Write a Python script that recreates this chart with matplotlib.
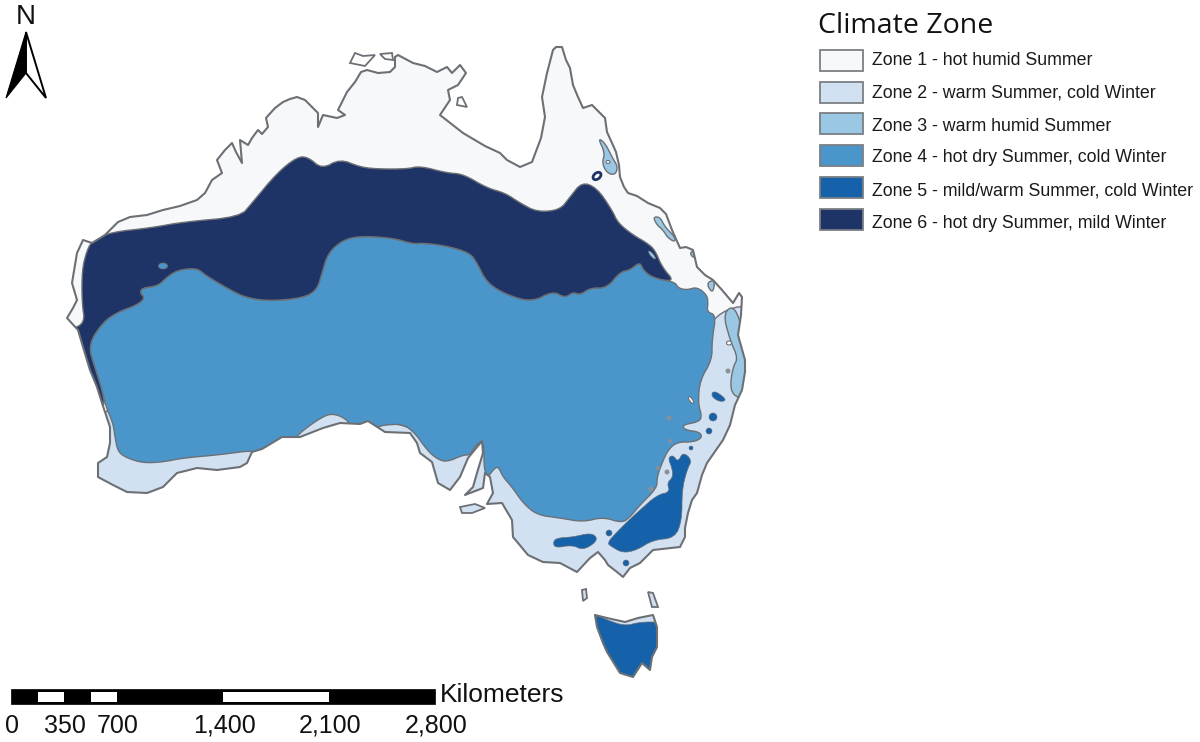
import matplotlib
matplotlib.use("Agg")
import matplotlib.pyplot as plt
from matplotlib.patches import Polygon, Circle, Ellipse, Rectangle

coast = [
    (83, 240), (92, 243), (105, 235), (118, 222), (130, 217), (147, 215), (163, 210), (180, 206),
    (197, 200), (205, 193), (212, 180), (222, 173), (217, 160), (225, 150), (232, 143), (236, 152),
    (242, 163), (240, 140), (248, 145), (252, 138), (258, 130), (262, 134), (268, 127), (266, 118),
    (275, 108), (283, 102), (290, 99), (297, 97), (305, 100), (312, 107), (318, 113), (318, 127),
    (323, 115), (337, 118), (345, 115), (338, 110), (347, 92), (355, 82), (361, 72), (367, 70),
    (378, 73), (390, 72), (395, 67), (395, 57), (398, 55), (413, 63), (425, 66), (437, 72),
    (447, 67), (452, 73), (460, 65), (466, 73), (458, 85), (448, 90), (450, 100), (440, 115),
    (463, 133), (485, 146), (500, 153), (507, 160), (520, 167), (532, 162), (541, 138), (545, 117),
    (542, 97), (547, 73), (553, 50), (556, 47), (562, 47), (566, 60), (570, 68), (573, 85),
    (578, 97), (583, 108), (592, 105), (600, 113), (605, 118), (607, 132), (612, 143), (616, 152),
    (619, 165), (620, 177), (624, 187), (628, 193), (637, 196), (648, 203), (660, 208), (666, 214),
    (672, 230), (680, 248), (686, 247), (693, 250), (697, 267), (705, 275), (713, 280), (722, 290),
    (733, 303), (739, 293), (742, 297), (741, 315), (738, 335), (745, 360), (745, 372), (742, 390),
    (735, 405), (730, 425), (723, 440), (707, 463), (702, 475), (697, 493), (692, 500), (688, 513),
    (685, 528), (685, 537), (680, 547), (653, 550), (640, 563), (630, 568), (623, 577), (617, 572),
    (608, 565), (605, 560), (598, 552), (590, 558), (577, 572), (560, 563), (543, 562), (528, 555),
    (513, 537), (512, 520), (502, 503), (487, 504), (493, 493), (490, 477), (485, 473), (483, 488),
    (465, 495), (473, 487), (477, 473), (483, 453), (482, 441), (468, 458), (460, 477), (450, 490),
    (438, 483), (432, 462), (420, 453), (417, 443), (410, 433), (385, 432), (368, 421), (360, 424),
    (340, 423), (323, 428), (300, 437), (282, 437), (262, 449), (252, 452), (247, 463), (240, 467),
    (217, 470), (197, 468), (177, 473), (163, 487), (147, 493), (127, 492), (113, 485), (98, 477),
    (98, 463), (107, 457), (110, 443), (110, 427), (102, 403), (97, 387), (90, 370), (83, 347),
    (78, 330), (67, 318), (73, 308), (77, 300), (72, 283), (77, 253),
]
tasmania = [
    (595, 615), (607, 618), (625, 622), (638, 618), (653, 615), (657, 627), (657, 647), (652, 657),
    (650, 670), (642, 663), (633, 677), (620, 673), (607, 652), (603, 643), (597, 627),
]
islands = [
    [(355, 53), (350, 63), (365, 66), (375, 55), (363, 56)],
    [(380, 54), (385, 59), (393, 60), (392, 53)],
    [(457, 105), (458, 98), (462, 97), (467, 107)],
    [(582, 590), (586, 589), (587, 598), (583, 601)],
    [(648, 592), (653, 593), (658, 607), (652, 607)],
    [(460, 507), (475, 504), (485, 508), (472, 513), (462, 513)],
]
zone2_islands = [3, 4, 5]

zone6_north = [
    (93, 240), (112, 232), (150, 228), (183, 222), (240, 217), (252, 203), (277, 173), (297, 157),
    (308, 157), (322, 169), (340, 159), (360, 167), (377, 169), (407, 169), (420, 166), (447, 173),
    (463, 174), (487, 188), (505, 193), (520, 203), (537, 212), (560, 210), (570, 197), (582, 182),
    (597, 188), (612, 210), (618, 223), (633, 235), (647, 243), (655, 250), (662, 267), (675, 282),
]
zone6_south = [
    (675, 282), (653, 278), (643, 270), (640, 262), (630, 270), (620, 272), (607, 288), (590, 288),
    (580, 295), (573, 292), (565, 298), (553, 291), (532, 302), (507, 295), (487, 283), (477, 263),
    (470, 253), (447, 246), (423, 243), (413, 244), (393, 238), (360, 236), (343, 240), (328, 253),
    (322, 273), (317, 290), (303, 298), (270, 301), (247, 298), (230, 290), (205, 275), (197, 268),
    (178, 270), (167, 277), (158, 286), (142, 288), (140, 293), (145, 298), (137, 305), (118, 312),
    (103, 322), (88, 345),
]
zone6_west = [
    (95, 368), (102, 390), (105, 407), (96, 407), (84, 375), (70, 330), (85, 323), (82, 303),
    (82, 270), (87, 250),
]
zone4_east = [
    (678, 288), (687, 290), (697, 287), (707, 295), (708, 303), (707, 312), (716, 315), (712, 340),
    (712, 360), (700, 380), (698, 403), (702, 417), (698, 422), (682, 425), (685, 430), (700, 432),
    (702, 438), (693, 442), (677, 442), (668, 450), (662, 463), (657, 477), (657, 488), (640, 505),
    (630, 517), (622, 523), (603, 517), (583, 522), (560, 518), (537, 515), (523, 503), (512, 487),
    (503, 477), (498, 466), (493, 470), (488, 477), (484, 470), (484, 440), (476, 445), (470, 455),
    (463, 455), (447, 462), (437, 459), (427, 450), (415, 433), (403, 424), (383, 425), (376, 428),
    (350, 428), (348, 420), (333, 413), (320, 418), (297, 435), (297, 440), (282, 441), (262, 453),
    (250, 451), (240, 452), (217, 455), (183, 458), (163, 462), (143, 463), (127, 458), (118, 452),
    (115, 437), (113, 423), (106, 407), (102, 390), (95, 368),
]
zone2_area = [
    (100, 405), (120, 420), (255, 440), (300, 420), (335, 405), (450, 440), (500, 460), (700, 340),
    (716, 315), (740, 305), (760, 310), (770, 600), (480, 600), (300, 520), (80, 520),
]
zone3_areas = [
    [(723, 313), (735, 305), (745, 340), (750, 360), (750, 400), (735, 397), (730, 387), (733, 367),
     (738, 358), (730, 340)],
    [(737, 407), (728, 430), (727, 437), (735, 430), (740, 410)],
    [(598, 138), (605, 143), (612, 157), (618, 167), (615, 175), (607, 173), (602, 163), (605, 153)],
    [(653, 217), (660, 217), (665, 227), (675, 237), (675, 242), (668, 238), (663, 230), (657, 225)],
    [(690, 252), (697, 250), (698, 258), (692, 257)],
    [(708, 282), (715, 280), (713, 293), (708, 287)],
]
zone5_areas = [
    [(607, 543), (617, 532), (627, 522), (640, 510), (657, 495), (670, 492), (667, 483), (673, 477),
     (672, 468), (668, 458), (673, 455), (678, 462), (683, 452), (692, 460), (687, 470), (682, 490),
     (682, 520), (675, 538), (653, 540), (637, 550), (623, 553), (612, 547)],
    [(553, 542), (557, 538), (573, 537), (590, 533), (597, 537), (595, 543), (583, 550), (572, 545),
     (555, 548)],
    [(712, 392), (717, 392), (727, 400), (720, 402), (712, 397)],
    [(590, 612), (607, 620), (625, 626), (640, 622), (662, 622), (660, 682), (590, 682)],
]
zone5_spots = [(609, 533, 3), (713, 417, 4), (709, 431, 3), (691, 448, 2), (626, 563, 3)]
grey_spots = [(669, 418, 2.5), (670, 441, 2), (658, 468, 2), (651, 489, 2.5), (667, 472, 2.5), (728, 371, 2.5)]
white_spots = [(691, 400, 8, 3, 55), (729, 343, 5, 4, 0), (608, 162, 4, 3, 0)]

zone_labels = [
    "Zone 1 - hot humid Summer",
    "Zone 2 - warm Summer, cold Winter",
    "Zone 3 - warm humid Summer",
    "Zone 4 - hot dry Summer, cold Winter",
    "Zone 5 - mild/warm Summer, cold Winter",
    "Zone 6 - hot dry Summer, mild Winter",
]
zone_colors = ["#f7f8fa", "#d2e1f1", "#9ac8e4", "#4a96cb", "#1562ab", "#1e3366"]
legend_tops = [50, 82, 113, 145, 177, 209]
legend_baselines = [65, 98, 131, 162, 196, 228]

scale_km = [0, 350, 700, 1400, 2100, 2800]
scale_labels = ["0", "350", "700", "1,400", "2,100", "2,800"]
scale_white = [(175, 350), (525, 700), (1400, 2100)]

edge = "#6c7075"
plt.rcParams["font.family"] = "Liberation Sans"

fig = plt.figure(figsize=(12, 7.42), dpi=100)
ax = fig.add_axes([0, 0, 1, 1])
ax.set_xlim(0, 1200)
ax.set_ylim(742, 0)
ax.axis("off")


def rounded(points, passes=2):
    """Cut the corners of a closed outline so zone edges look drawn, not polygonal"""
    for _ in range(passes):
        out = []
        for i, (x1, y1) in enumerate(points):
            x2, y2 = points[(i + 1) % len(points)]
            out.append((0.75 * x1 + 0.25 * x2, 0.75 * y1 + 0.25 * y2))
            out.append((0.25 * x1 + 0.75 * x2, 0.25 * y1 + 0.75 * y2))
        points = out
    return points


def zone_poly(points, color, clip, lw=1.0, line=edge):
    poly = Polygon(rounded(points), closed=True, facecolor=color, edgecolor=line, linewidth=lw, joinstyle="round")
    ax.add_patch(poly)
    poly.set_clip_path(clip)
    return poly


# Land
land = Polygon(coast, closed=True, facecolor=zone_colors[0], edgecolor="none")
ax.add_patch(land)
tas = Polygon(tasmania, closed=True, facecolor=zone_colors[1], edgecolor="none")
ax.add_patch(tas)
for i, isl in enumerate(islands):
    c = zone_colors[1] if i in zone2_islands else "white"
    ax.add_patch(Polygon(isl, closed=True, facecolor=c, edgecolor=edge, linewidth=1.3))

# Zones, lightest first so the darker ones sit on top
zone_poly(zone2_area, zone_colors[1], land)
zone_poly(zone6_south[::-1] + zone4_east, zone_colors[3], land)
for area in zone3_areas:
    zone_poly(area, zone_colors[2], land)
for area in zone5_areas[:3]:
    zone_poly(area, zone_colors[4], land, lw=0.5)
zone_poly(zone5_areas[3], zone_colors[4], tas, lw=0.5)
zone_poly(zone6_north + zone6_south[1:] + zone6_west, zone_colors[5], land)

# Small patches
for x, y, r in zone5_spots:
    ax.add_patch(Circle((x, y), r, facecolor=zone_colors[4], edgecolor=edge, linewidth=0.4))
for x, y, r in grey_spots:
    ax.add_patch(Circle((x, y), r, facecolor="#8a9097", edgecolor="none"))
for x, y, w, h, ang in white_spots:
    ax.add_patch(Ellipse((x, y), w, h, angle=ang, facecolor="white", edgecolor=edge, linewidth=0.8))
ax.add_patch(Ellipse((163, 266), 9, 6, facecolor=zone_colors[3], edgecolor=edge, linewidth=0.6))
ax.add_patch(Ellipse((597, 176), 9, 6, angle=-40, facecolor="white", edgecolor=zone_colors[5], linewidth=2))
ax.add_patch(Ellipse((652, 255), 10, 3, angle=50, facecolor=zone_colors[2], edgecolor=edge, linewidth=0.6))

# Coast on top
ax.add_patch(Polygon(coast, closed=True, fill=False, edgecolor=edge, linewidth=1.5, joinstyle="round"))
ax.add_patch(Polygon(tasmania, closed=True, fill=False, edgecolor=edge, linewidth=1.5, joinstyle="round"))

# Legend
ax.text(818, 33, "Climate Zone", fontsize=20.5, family="Open Sans", va="baseline", ha="left", color="#111111")
for label, color, top, base in zip(zone_labels, zone_colors, legend_tops, legend_baselines):
    ax.add_patch(Rectangle((820, top), 43, 21, facecolor=color, edgecolor="#7b7f84", linewidth=1.3))
    ax.text(872, base, label, fontsize=12.8, va="baseline", ha="left", color="#1a1a1a")

# Scale bar
x0 = 11
px_per_km = (435 - 11) / 2800
ax.add_patch(Rectangle((x0, 689), 2800 * px_per_km, 15, facecolor="black", edgecolor="black", linewidth=0.5))
for a, b in scale_white:
    ax.add_patch(Rectangle((x0 + a * px_per_km, 691.5), (b - a) * px_per_km, 10.5, facecolor="white", edgecolor="none"))
for km, label in zip(scale_km, scale_labels):
    ax.text(x0 + 1 + km * px_per_km, 733, label, fontsize=18, ha="center", va="baseline", color="#111111")
ax.text(440, 702, "Kilometers", fontsize=19, ha="left", va="baseline", color="#111111")

# North arrow
ax.add_patch(Polygon([(26, 32), (6, 98), (26, 73)], closed=True, facecolor="black", edgecolor="black", linewidth=0.8))
ax.add_patch(Polygon([(26, 32), (46, 98), (26, 73)], closed=True, facecolor="white", edgecolor="black", linewidth=1.4))
ax.text(26, 24, "N", fontsize=20, ha="center", va="baseline", color="#111111")

fig.savefig("out.png", dpi=100)
